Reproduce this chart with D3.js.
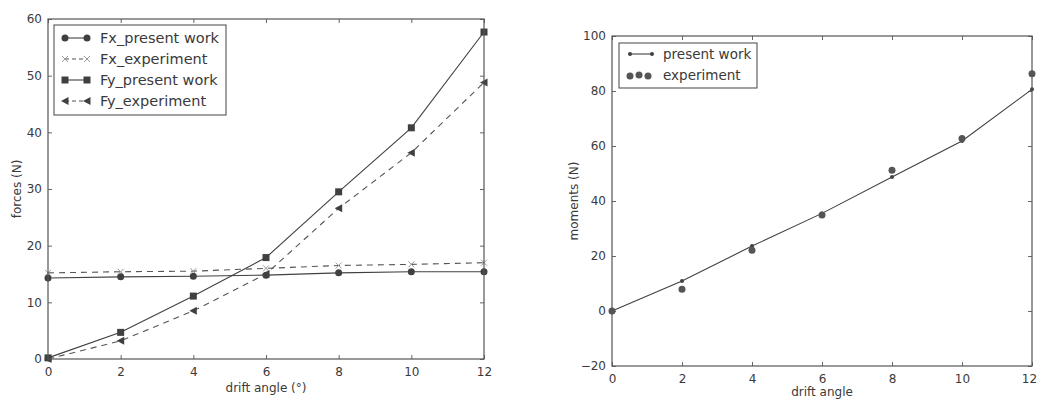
<!DOCTYPE html>
<meta charset="utf-8">
<style>
 body { margin: 0; background: #fff; }
 svg { display: block; }
 text {
  font-family: "DejaVu Sans", sans-serif;
  fill: #3a3a3a;
 }
 .frame { fill: none; stroke: #555; stroke-width: 1.2; }
</style>
<body>
<div id="chart"></div>
<script src="https://cdnjs.cloudflare.com/ajax/libs/d3/7.8.5/d3.min.js"></script>
<script>
var angles = [0, 2, 4, 6, 8, 10, 12];
var fxPresent = [14.3, 14.5, 14.6, 14.8, 15.2, 15.4, 15.4];
var fxExperiment = [15.2, 15.4, 15.5, 16.0, 16.5, 16.7, 17.0];
var fyPresent = [0.2, 4.7, 11.1, 17.9, 29.5, 40.8, 57.7];
var fyExperiment = [0.0, 3.2, 8.5, 15.0, 26.6, 36.4, 48.8];
var momPresent = [0, 10.9, 23.6, 35.5, 48.7, 61.8, 80.6];
var momExperiment = [0, 7.9, 22.1, 34.9, 51.2, 62.7, 86.3];

var xTicks = [0, 2, 4, 6, 8, 10, 12];
var forceTicks = [0, 10, 20, 30, 40, 50, 60];
var momentTicks = [-20, 0, 20, 40, 60, 80, 100];

(function(){
  var svg = d3.select("#chart").append("svg")
      .attr("width", 1037).attr("height", 399);

  var ink = "#404040";

  function marker(g, type, x, y) {
    if (type === "circle") {
      g.append("circle").attr("cx", x).attr("cy", y).attr("r", 3.5).attr("fill", ink);
    } else if (type === "square") {
      g.append("rect").attr("x", x - 3.5).attr("y", y - 3.5).attr("width", 7).attr("height", 7).attr("fill", ink);
    } else if (type === "x") {
      g.append("path").attr("d", "M" + (x-3) + "," + (y-3) + "L" + (x+3) + "," + (y+3) + "M" + (x-3) + "," + (y+3) + "L" + (x+3) + "," + (y-3))
        .attr("stroke", "#999").attr("stroke-width", 1);
    } else if (type === "tri") {
      g.append("path").attr("d", "M" + (x-4) + "," + y + "L" + (x+3.5) + "," + (y-4) + "L" + (x+3.5) + "," + (y+4) + "Z").attr("fill", ink);
    } else if (type === "dot") {
      g.append("circle").attr("cx", x).attr("cy", y).attr("r", 2).attr("fill", ink);
    } else if (type === "bigdot") {
      g.append("circle").attr("cx", x).attr("cy", y).attr("r", 3.5).attr("fill", "#555");
    }
  }

  function panel(o) {
    var x = d3.scaleLinear().domain([0, 12]).range([o.left, o.right]);
    var y = d3.scaleLinear().domain(o.ydom).range([o.bottom, o.top]);
    var g = svg.append("g");

    // ticks inward on all four sides
    g.append("g").attr("class", "xax").attr("transform", "translate(0," + o.bottom + ")")
      .call(d3.axisBottom(x).tickValues(xTicks).tickSizeInner(-4).tickSizeOuter(0).tickPadding(8))
      .call(function(a){ a.select(".domain").remove(); a.selectAll("line").attr("stroke", "#666"); });
    g.append("g").attr("transform", "translate(0," + o.top + ")")
      .call(d3.axisTop(x).tickValues(xTicks).tickSizeInner(-4).tickSizeOuter(0).tickFormat(""))
      .call(function(a){ a.select(".domain").remove(); a.selectAll("line").attr("stroke", "#666"); });
    g.append("g").attr("transform", "translate(" + o.left + ",0)")
      .call(d3.axisLeft(y).tickValues(o.yticks).tickSizeInner(-4).tickSizeOuter(0).tickPadding(6)
        .tickFormat(function(d){ return d < 0 ? "\u2212" + Math.abs(d) : d; }))
      .call(function(a){ a.select(".domain").remove(); a.selectAll("line").attr("stroke", "#666"); });
    g.append("g").attr("transform", "translate(" + o.right + ",0)")
      .call(d3.axisRight(y).tickValues(o.yticks).tickSizeInner(-4).tickSizeOuter(0).tickFormat(""))
      .call(function(a){ a.select(".domain").remove(); a.selectAll("line").attr("stroke", "#666"); });
    g.selectAll(".tick text").attr("fill", "#3a3a3a").attr("font-family", "DejaVu Sans").attr("font-size", 12);
    if (o.lastShift) {
      g.selectAll(".xax .tick text").filter(function(d){ return d === 12; }).attr("dx", o.lastShift);
    }

    var clip = "clip" + o.left;
    svg.append("clipPath").attr("id", clip).append("rect")
      .attr("x", o.left - 5).attr("y", o.top - 5).attr("width", o.right - o.left + 10).attr("height", o.bottom - o.top + 10);
    var plot = g.append("g").attr("clip-path", "url(#" + clip + ")");

    o.series.forEach(function(s) {
      var line = d3.line().x(function(d, i){ return x(angles[i]); }).y(function(d){ return y(d); });
      if (s.line) {
        plot.append("path").datum(s.values).attr("d", line)
          .attr("fill", "none").attr("stroke", s.stroke || ink).attr("stroke-width", 1.1)
          .attr("stroke-dasharray", s.dash || null);
      }
      s.values.forEach(function(v, i) { marker(plot, s.marker, x(angles[i]), y(v)); });
    });

    g.append("rect").attr("class", "frame")
      .attr("x", o.left).attr("y", o.top).attr("width", o.right - o.left).attr("height", o.bottom - o.top);

    // axis titles
    g.append("text").attr("x", (o.left + o.right) / 2).attr("y", o.xlabY)
      .attr("text-anchor", "middle").attr("font-size", 12).text(o.xlabel);
    g.append("text").attr("transform", "translate(" + o.ylabX + "," + ((o.top + o.bottom) / 2) + ") rotate(-90)")
      .attr("text-anchor", "middle").attr("font-size", 12).text(o.ylabel);

    // legend
    var L = o.legend;
    var lg = g.append("g");
    lg.append("rect").attr("x", L.x).attr("y", L.y).attr("width", L.w).attr("height", L.h)
      .attr("fill", "#fff").attr("stroke", "#555").attr("stroke-width", 1.1);
    o.series.forEach(function(s, i) {
      var cy = L.y + L.first + i * L.step;
      if (s.line) {
        lg.append("line").attr("x1", L.x + 11).attr("x2", L.x + 33).attr("y1", cy).attr("y2", cy)
          .attr("stroke", s.stroke || ink).attr("stroke-width", 1.1).attr("stroke-dasharray", s.dash ? "4,3" : null);
        marker(lg, s.marker, L.x + 11, cy);
        marker(lg, s.marker, L.x + 33, cy);
      } else {
        marker(lg, s.marker, L.x + 11, cy + 1);
        marker(lg, s.marker, L.x + 20, cy);
        marker(lg, s.marker, L.x + 29, cy + 1);
      }
      lg.append("text").attr("x", L.x + L.tx).attr("y", cy).attr("dy", "0.35em")
        .attr("font-size", L.fs).text(s.name);
    });
  }

  panel({
    left: 48, right: 484, top: 19, bottom: 359, ydom: [0, 60], yticks: forceTicks,
    xlabel: "drift angle (\u00b0)", xlabY: 392, ylabel: "forces (N)", ylabX: 21,
    legend: { x: 54, y: 25, w: 172, h: 90, first: 13, step: 21, tx: 46, fs: 14.5 },
    series: [
      { name: "Fx_present work", values: fxPresent, line: true, marker: "circle" },
      { name: "Fx_experiment", values: fxExperiment, line: true, dash: "6,5", stroke: "#555", marker: "x" },
      { name: "Fy_present work", values: fyPresent, line: true, marker: "square" },
      { name: "Fy_experiment", values: fyExperiment, line: true, dash: "6,5", stroke: "#555", marker: "tri" }
    ]
  });

  panel({
    left: 612, right: 1032, top: 36, bottom: 366, ydom: [-20, 100], yticks: momentTicks,
    xlabel: "drift angle", xlabY: 396, ylabel: "moments (N)", ylabX: 578, lastShift: -3,
    legend: { x: 619, y: 43, w: 138, h: 45, first: 11, step: 21, tx: 44, fs: 13.5 },
    series: [
      { name: "present work", values: momPresent, line: true, marker: "dot" },
      { name: "experiment", values: momExperiment, line: false, marker: "bigdot" }
    ]
  });
})();
</script>
</body>
